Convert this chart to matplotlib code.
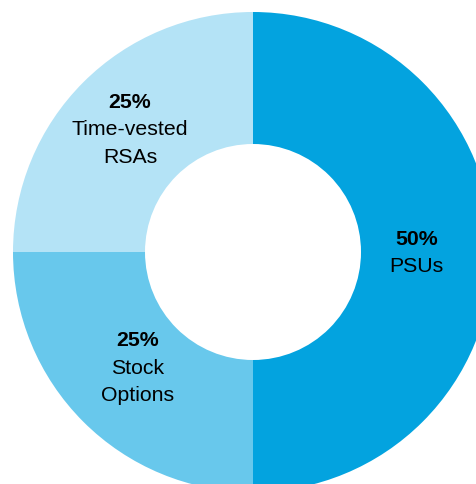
import numpy as np
import matplotlib.pyplot as plt

plt.rcParams['font.family'] = ['Liberation Sans', 'DejaVu Sans']

labels = ['PSUs', 'Stock\nOptions', 'Time-vested\nRSAs']
shares = [50, 25, 25]
colors = ['#03a3df', '#68c8ec', '#b4e3f6']
label_r = [0.68, 0.68, 0.725]   # how far out each label sits in the ring

W, H = 477, 485
cx, cy, R = 253, 253, 240   # centre and radius in pixels

fig = plt.figure(figsize=(W / 100, H / 100), dpi=100)
ax = fig.add_axes([0, 0, 1, 1])

wedges, _ = ax.pie(shares, colors=colors, startangle=90, counterclock=False,
                   radius=1, wedgeprops=dict(width=0.55, linewidth=0))

ax.set_xlim(-cx / R, (W - cx) / R)
ax.set_ylim(-(H - cy) / R, cy / R)
ax.set_aspect('auto')
ax.axis('off')

step = 27.5 / R   # line spacing in data units
for w, pct, name, r in zip(wedges, shares, labels, label_r):
    ang = np.deg2rad((w.theta1 + w.theta2) / 2)
    x = r * np.cos(ang)
    y = r * np.sin(ang)
    lines = name.split('\n')
    n = len(lines) + 1
    top = y + step * (n - 1) / 2
    ax.text(x, top, f'{pct}%', ha='center', va='center', fontsize=15.3,
            fontweight='bold')
    for i, ln in enumerate(lines):
        ax.text(x, top - step * (i + 1), ln, ha='center', va='center',
                fontsize=15.3)

fig.savefig('out.png', dpi=100)
